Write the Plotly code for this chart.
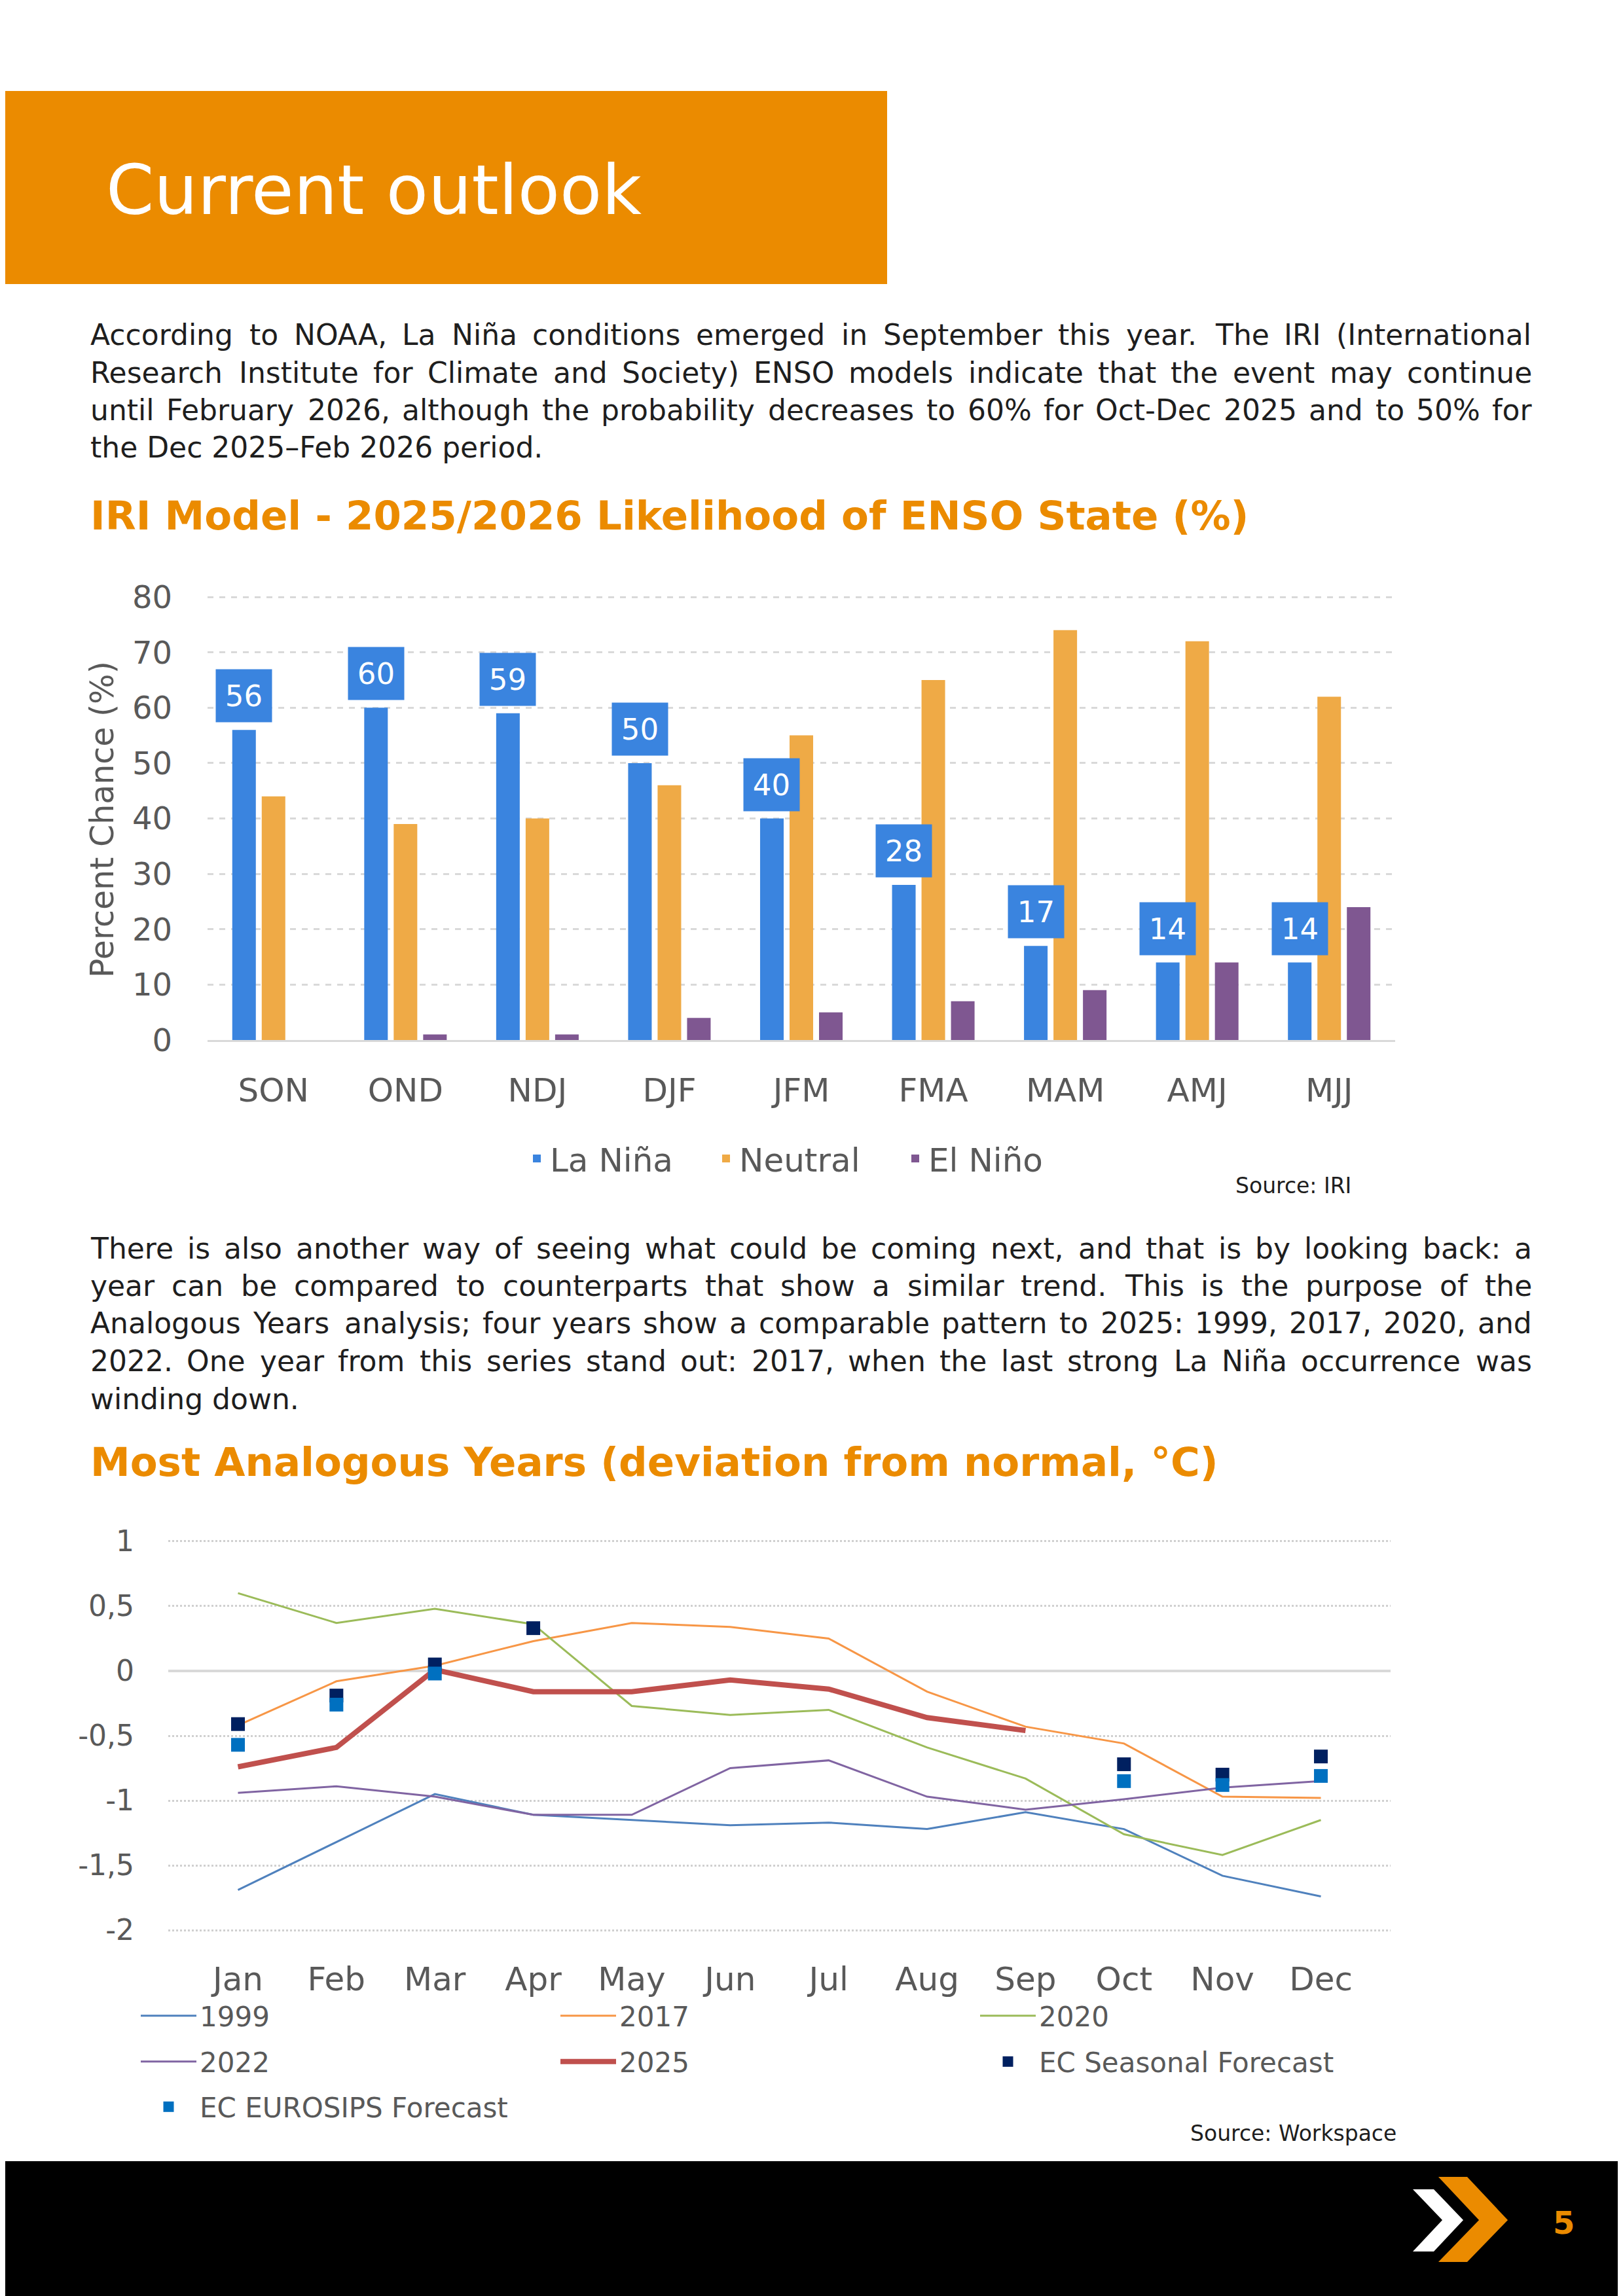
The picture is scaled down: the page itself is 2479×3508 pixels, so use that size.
import plotly.graph_objects as go

# ---------------- data ----------------
cats = ["SON", "OND", "NDJ", "DJF", "JFM", "FMA", "MAM", "AMJ", "MJJ"]
la_nina = [56, 60, 59, 50, 40, 28, 17, 14, 14]
neutral = [44, 39, 40, 46, 55, 65, 74, 72, 62]
el_nino = [0, 1, 1, 4, 5, 7, 9, 14, 24]

months = ["Jan", "Feb", "Mar", "Apr", "May", "Jun", "Jul", "Aug", "Sep", "Oct", "Nov", "Dec"]
y1999 = [-1.69, -1.32, -0.95, -1.11, -1.15, -1.19, -1.17, -1.22, -1.09, -1.22, -1.58, -1.74]
y2017 = [-0.42, -0.08, 0.04, 0.23, 0.37, 0.34, 0.25, -0.16, -0.43, -0.56, -0.97, -0.98]
y2020 = [0.60, 0.37, 0.48, 0.36, -0.27, -0.34, -0.30, -0.59, -0.83, -1.26, -1.42, -1.15]
y2022 = [-0.94, -0.89, -0.97, -1.11, -1.11, -0.75, -0.69, -0.97, -1.07, -0.99, -0.90, -0.85]
y2025 = [-0.74, -0.59, 0.01, -0.16, -0.16, -0.07, -0.14, -0.36, -0.46, None, None, None]
ec_seasonal = [-0.41, -0.19, 0.05, 0.33, None, None, None, None, None, -0.72, -0.80, -0.66]
ec_eurosips = [-0.57, -0.26, -0.02, None, None, None, None, None, None, -0.85, -0.88, -0.81]

temp_ticks = [1, 0.5, 0, -0.5, -1, -1.5, -2]
temp_ticktext = ["1", "0,5", "0", "-0,5", "-1", "-1,5", "-2"]

para1 = [
    "According to NOAA, La Niña conditions emerged in September this year. The IRI (International",
    "Research Institute for Climate and Society) ENSO models indicate that the event may continue",
    "until February 2026, although the probability decreases to 60% for Oct-Dec 2025 and to 50% for",
    "the Dec 2025–Feb 2026 period.",
]
para2 = [
    "There is also another way of seeing what could be coming next, and that is by looking back: a",
    "year can be compared to counterparts that show a similar trend. This is the purpose of the",
    "Analogous Years analysis; four years show a comparable pattern to 2025: 1999, 2017, 2020, and",
    "2022. One year from this series stand out: 2017, when the last strong La Niña occurrence was",
    "winding down.",
]

# ---------------- styling ----------------
W, H = 2479, 3508
OFF = 8  # page body margin compensation
FONT = "DejaVu Sans"
ORANGE = "#EB8B00"
GREY = "#595959"
TXT = "#1E1E1E"
C_LN, C_NE, C_EN = "#3A84DF", "#EFAA46", "#7F5791"

# DejaVu Sans advance widths (units per 2048 em) used to justify the paragraphs
CHAR_W = {" ": 651, "%": 1946, "(": 799, ")": 799, ",": 651, "-": 739, ".": 651, ":": 690, ";": 690,
          "–": 1024, "ñ": 1298,
          "A": 1401, "B": 1405, "C": 1430, "D": 1577, "E": 1294, "F": 1178, "G": 1587, "H": 1540,
          "I": 604, "J": 604, "K": 1343, "L": 1141, "M": 1767, "N": 1532, "O": 1612, "P": 1235,
          "Q": 1612, "R": 1423, "S": 1300, "T": 1251, "U": 1499, "V": 1401, "W": 2025, "X": 1403,
          "Y": 1251, "Z": 1403,
          "a": 1255, "b": 1300, "c": 1126, "d": 1300, "e": 1260, "f": 721, "g": 1300, "h": 1298,
          "i": 569, "j": 569, "k": 1186, "l": 569, "m": 1995, "n": 1298, "o": 1253, "p": 1300,
          "q": 1300, "r": 842, "s": 1067, "t": 803, "u": 1298, "v": 1212, "w": 1675, "x": 1212,
          "y": 1212, "z": 1075}
for d in "0123456789":
    CHAR_W[d] = 1303


def text_width(s, size):
    return sum(CHAR_W.get(c, 1250) for c in s) * size / 2048


def px(x):
    return (x - OFF) / W


def py(y):
    return 1 - (y - OFF) / H


BARGAP = 0.33
fig = go.Figure()

xpos = list(range(len(cats)))
for name, vals, col in [("La Niña", la_nina, C_LN), ("Neutral", neutral, C_NE), ("El Niño", el_nino, C_EN)]:
    fig.add_trace(go.Bar(x=xpos, y=vals, name=name, marker=dict(color=col, line=dict(width=0)),
                         xaxis="x", yaxis="y", legend="legend"))

line_series = [
    ("1999", y1999, "#4F81BD", 3, "legend2"),
    ("2017", y2017, "#F79646", 3, "legend2"),
    ("2020", y2020, "#9BBB59", 3, "legend2"),
    ("2022", y2022, "#8064A2", 3, "legend3"),
    ("2025", y2025, "#C0504D", 8, "legend3"),
]
for name, vals, col, wd, lg in line_series:
    fig.add_trace(go.Scatter(x=months, y=vals, name=name, mode="lines",
                             line=dict(color=col, width=wd), connectgaps=False,
                             xaxis="x2", yaxis="y2", legend=lg))
fig.add_trace(go.Scatter(x=months, y=ec_seasonal, name="EC Seasonal Forecast", mode="markers",
                         marker=dict(symbol="square", size=21, color="#002060"),
                         xaxis="x2", yaxis="y2", legend="legend3"))
fig.add_trace(go.Scatter(x=months, y=ec_eurosips, name="EC EUROSIPS Forecast", mode="markers",
                         marker=dict(symbol="square", size=21, color="#0070C0"),
                         xaxis="x2", yaxis="y2", legend="legend4"))

annotations = []
# data labels for La Niña bars
off = (1 - BARGAP) / 3
for i, v in enumerate(la_nina):
    annotations.append(dict(x=i - off, y=v, xref="x", yref="y", text=str(v), showarrow=False,
                            xanchor="center", yanchor="bottom", yshift=11, width=85, height=80,
                            bgcolor=C_LN, borderpad=0, font=dict(family=FONT, size=45, color="white")))


def note(x, y, text, size, color=TXT, xanchor="left", fontkw=None, **kw):
    annotations.append(dict(x=px(x), y=py(y), xref="paper", yref="paper", text=text,
                            showarrow=False, xanchor=xanchor, yanchor="middle",
                            font=dict(family=FONT, size=size, color=color, **(fontkw or {})), **kw))


TEXT_L, TEXT_R = 136, 2338


def paragraph(lines, y0, dy, size):
    for k, line in enumerate(lines):
        y = y0 + k * dy
        words = line.split(" ")
        if k == len(lines) - 1 or len(words) < 2:
            note(TEXT_L, y, line, size)
            continue
        widths = [text_width(w, size) for w in words]
        gap = (TEXT_R - TEXT_L - sum(widths)) / (len(words) - 1)
        x = TEXT_L
        for w, wd in zip(words, widths):
            note(x, y, w, size)
            x += wd + gap


note(160, 291, "Current outlook", 105, "white")
paragraph(para1, 512, 57.3, 44)
note(136, 787, "<b>IRI Model - 2025/2026 Likelihood of ENSO State (%)</b>", 61, ORANGE)
note(156, 1252, "Percent Chance (%)", 49, GREY, xanchor="center", textangle=-90)
note(2066, 1811, "Source: IRI", 33, xanchor="right")
paragraph(para2, 1907, 57.5, 44)
note(136, 2233, "<b>Most Analogous Years (deviation from normal, °C)</b>", 61, ORANGE)
note(2135, 3259, "Source: Workspace", 33, xanchor="right")
note(2388, 3396, "<b>5</b>", 48, ORANGE, xanchor="center")


def path(points):
    return "M " + " L ".join(f"{px(a):.5f},{py(b):.5f}" for a, b in points) + " Z"


shapes = [
    dict(type="rect", xref="paper", yref="paper", x0=px(0), x1=px(1355), y0=py(434), y1=py(139),
         fillcolor=ORANGE, line=dict(width=0), layer="below"),
    dict(type="rect", xref="paper", yref="paper", x0=px(0), x1=px(W + OFF), y0=py(H + OFF), y1=py(3302),
         fillcolor="black", line=dict(width=0), layer="below"),
    dict(type="path", xref="paper", yref="paper", fillcolor="white", line=dict(width=0),
         path=path([(2158, 3345), (2190, 3345), (2235, 3392), (2190, 3440), (2158, 3440), (2203, 3392)])),
    dict(type="path", xref="paper", yref="paper", fillcolor=ORANGE, line=dict(width=0),
         path=path([(2197, 3326), (2241, 3326), (2303, 3392), (2241, 3456), (2197, 3456), (2259, 3392)])),
]

# plot-area geometry (pixels)
BAR_L, BAR_R, BAR_TOP, BAR_BOT = 317, 2131, 907, 1589
LIN_L, LIN_R, LIN_TOP, LIN_BOT = 257, 2124, 2347, 2957

LEG_ROWS = [3080, 3150, 3219]
leg_common = dict(orientation="h", xanchor="left", yanchor="middle", bgcolor="rgba(0,0,0,0)",
                  borderwidth=0, entrywidth=541, itemwidth=85, itemsizing="trace",
                  traceorder="normal", font=dict(family=FONT, size=42, color=GREY))

fig.update_layout(
    template="none",
    width=W, height=H, autosize=False,
    margin=dict(l=0, r=0, t=0, b=0, pad=0, autoexpand=False),
    paper_bgcolor="white", plot_bgcolor="white",
    font=dict(family=FONT, color=GREY),
    barmode="group", bargap=BARGAP, bargroupgap=0.2,
    xaxis=dict(domain=[px(BAR_L), px(BAR_R)], anchor="y", range=[-0.5, len(cats) - 0.5],
               tickmode="array", tickvals=xpos, ticktext=cats, showgrid=False,
               showline=True, linecolor="#D9D9D9", linewidth=3, ticks="", automargin=False,
               tickfont=dict(size=50, color=GREY), ticklabelstandoff=31, zeroline=False),
    yaxis=dict(domain=[py(BAR_BOT), py(BAR_TOP)], anchor="x", range=[0, 80.6],
               tickmode="array", tickvals=[0, 10, 20, 30, 40, 50, 60, 70, 80],
               showgrid=True, gridcolor="#D9D9D9", gridwidth=3, griddash="dash",
               zeroline=False, showline=False, ticks="", automargin=False,
               tickfont=dict(size=48, color=GREY), ticklabelstandoff=53),
    xaxis2=dict(domain=[px(LIN_L), px(LIN_R)], anchor="y2", type="category",
                categoryorder="array", categoryarray=months, showgrid=False, showline=False,
                ticks="", automargin=False, tickfont=dict(size=50, color=GREY),
                ticklabelstandoff=33, zeroline=False),
    yaxis2=dict(domain=[py(LIN_BOT), py(LIN_TOP)], anchor="x2", range=[-2.04, 1.04],
                tickmode="array", tickvals=temp_ticks, ticktext=temp_ticktext,
                showgrid=True, gridcolor="#D0D0D0", gridwidth=2.5, griddash="dot",
                zeroline=True, zerolinecolor="#D9D9D9", zerolinewidth=4, showline=False,
                ticks="", automargin=False, tickfont=dict(size=44, color=GREY), ticklabelstandoff=51),
    legend=dict(orientation="h", x=px(800), xanchor="left", y=py(1770), yanchor="middle",
                font=dict(family=FONT, size=50, color=GREY), bgcolor="rgba(0,0,0,0)",
                borderwidth=0, entrywidth=244, traceorder="normal"),
    legend2=dict(x=px(210), y=py(LEG_ROWS[0]), **leg_common),
    legend3=dict(x=px(210), y=py(LEG_ROWS[1]), **leg_common),
    legend4=dict(x=px(210), y=py(LEG_ROWS[2]), **leg_common),
    annotations=annotations,
    shapes=shapes,
    showlegend=True,
)

fig.write_html("out.html")
